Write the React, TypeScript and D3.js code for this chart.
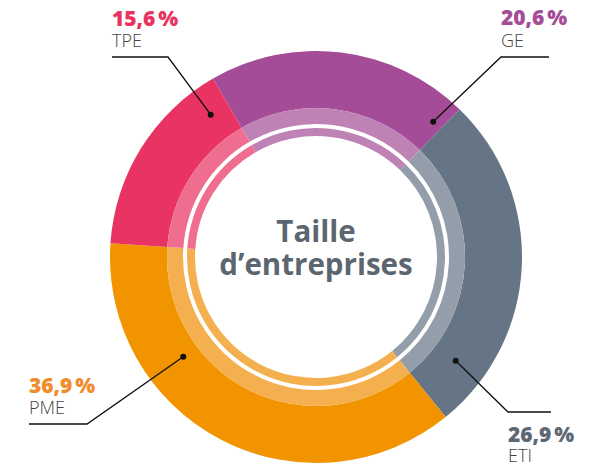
import React from "react";
import * as d3 from "d3";

// ---- data ----
const categories = ["GE", "ETI", "PME", "TPE"];
const values = [20.6, 26.9, 36.9, 15.6];
const pctLabels = ["20,6\u202F%", "26,9\u202F%", "36,9\u202F%", "15,6\u202F%"];
const centerTitle = ["Taille", "d\u2019entreprises"];

// ---- styles ----
const mainColors = ["#A44C97", "#667585", "#F29400", "#E83363"];
const lightColors = ["#BF82B5", "#949EAA", "#F4B04E", "#EF6E8F"];
const pctColors = ["#A44C97", "#5D6873", "#F08C2B", "#E8335F"];

// ---- layout ----
const W = 604, H = 476;
const cx = 316, cy = 257;
const R_OUT = 206, R_MID = 149, R_LIGHT_IN = 133, R_THIN_OUT = 129, R_THIN_IN = 121;
const START_DEG = -30;

// annotation layout per category (dot in polar coords; elbow & end in px)
const labelLayout = [
  { dotDeg: 40.9, dotR: 179, elbow: [501, 57], endX: 549, textX: 501, pctY: 25, nameY: 47 },
  { dotDeg: 126.6, dotR: 174, elbow: [508, 412], endX: 551, textX: 508, pctY: 442, nameY: 462 },
  { dotDeg: 233.1, dotR: 166, elbow: [87, 424], endX: 29, textX: 29, pctY: 393, nameY: 414 },
  { dotDeg: -36.5, dotR: 177, elbow: [168, 57], endX: 112, textX: 112, pctY: 26, nameY: 47 },
];

export default function App() {
  const start = (START_DEG * Math.PI) / 180;
  const pie = d3
    .pie<number>()
    .sort(null)
    .value((d) => d)
    .startAngle(start)
    .endAngle(start + 2 * Math.PI);
  const arcs = pie(values);

  const outerArc = d3.arc<d3.PieArcDatum<number>>().innerRadius(R_MID).outerRadius(R_OUT);
  const lightArc = d3.arc<d3.PieArcDatum<number>>().innerRadius(R_LIGHT_IN).outerRadius(R_MID);
  const thinArc = d3.arc<d3.PieArcDatum<number>>().innerRadius(R_THIN_IN).outerRadius(R_THIN_OUT);

  const labelFont = "'Open Sans', sans-serif";

  return (
    <svg
      width={W}
      height={H}
      viewBox={`0 0 ${W} ${H}`}
      style={{ position: "absolute", left: 0, top: 0, background: "#fff" }}
    >
      <g transform={`translate(${cx},${cy})`}>
        {arcs.map((a, i) => (
          <g key={categories[i]}>
            <path d={outerArc(a) || ""} fill={mainColors[i]} />
            <path d={lightArc(a) || ""} fill={lightColors[i]} />
            <path d={thinArc(a) || ""} fill={lightColors[i]} />
          </g>
        ))}
      </g>

      {/* leaders */}
      {labelLayout.map((l, i) => {
        const t = (l.dotDeg * Math.PI) / 180;
        const dx = cx + l.dotR * Math.sin(t);
        const dy = cy - l.dotR * Math.cos(t);
        return (
          <g key={"lead" + i}>
            <polyline
              points={`${dx},${dy} ${l.elbow[0]},${l.elbow[1]} ${l.endX},${l.elbow[1]}`}
              fill="none"
              stroke="#111"
              strokeWidth={1.3}
            />
            <circle cx={dx} cy={dy} r={3} fill="#111" />
            <text
              x={l.textX}
              y={l.pctY}
              fontFamily={labelFont}
              fontWeight={800}
              fontSize={21}
              fill={pctColors[i]}
            >
              {pctLabels[i]}
            </text>
            <text
              x={l.textX}
              y={l.nameY}
              fontFamily={labelFont}
              fontWeight={300}
              fontSize={18}
              fill="#444"
            >
              {categories[i]}
            </text>
          </g>
        );
      })}

      {/* center title */}
      <text
        x={cx}
        y={242}
        textAnchor="middle"
        fontFamily={labelFont}
        fontWeight={700}
        fontSize={29.5}
        fill="#5C6670"
      >
        {centerTitle[0]}
      </text>
      <text
        x={cx}
        y={275}
        textAnchor="middle"
        fontFamily={labelFont}
        fontWeight={700}
        fontSize={29.5}
        fill="#5C6670"
      >
        {centerTitle[1]}
      </text>
    </svg>
  );
}
